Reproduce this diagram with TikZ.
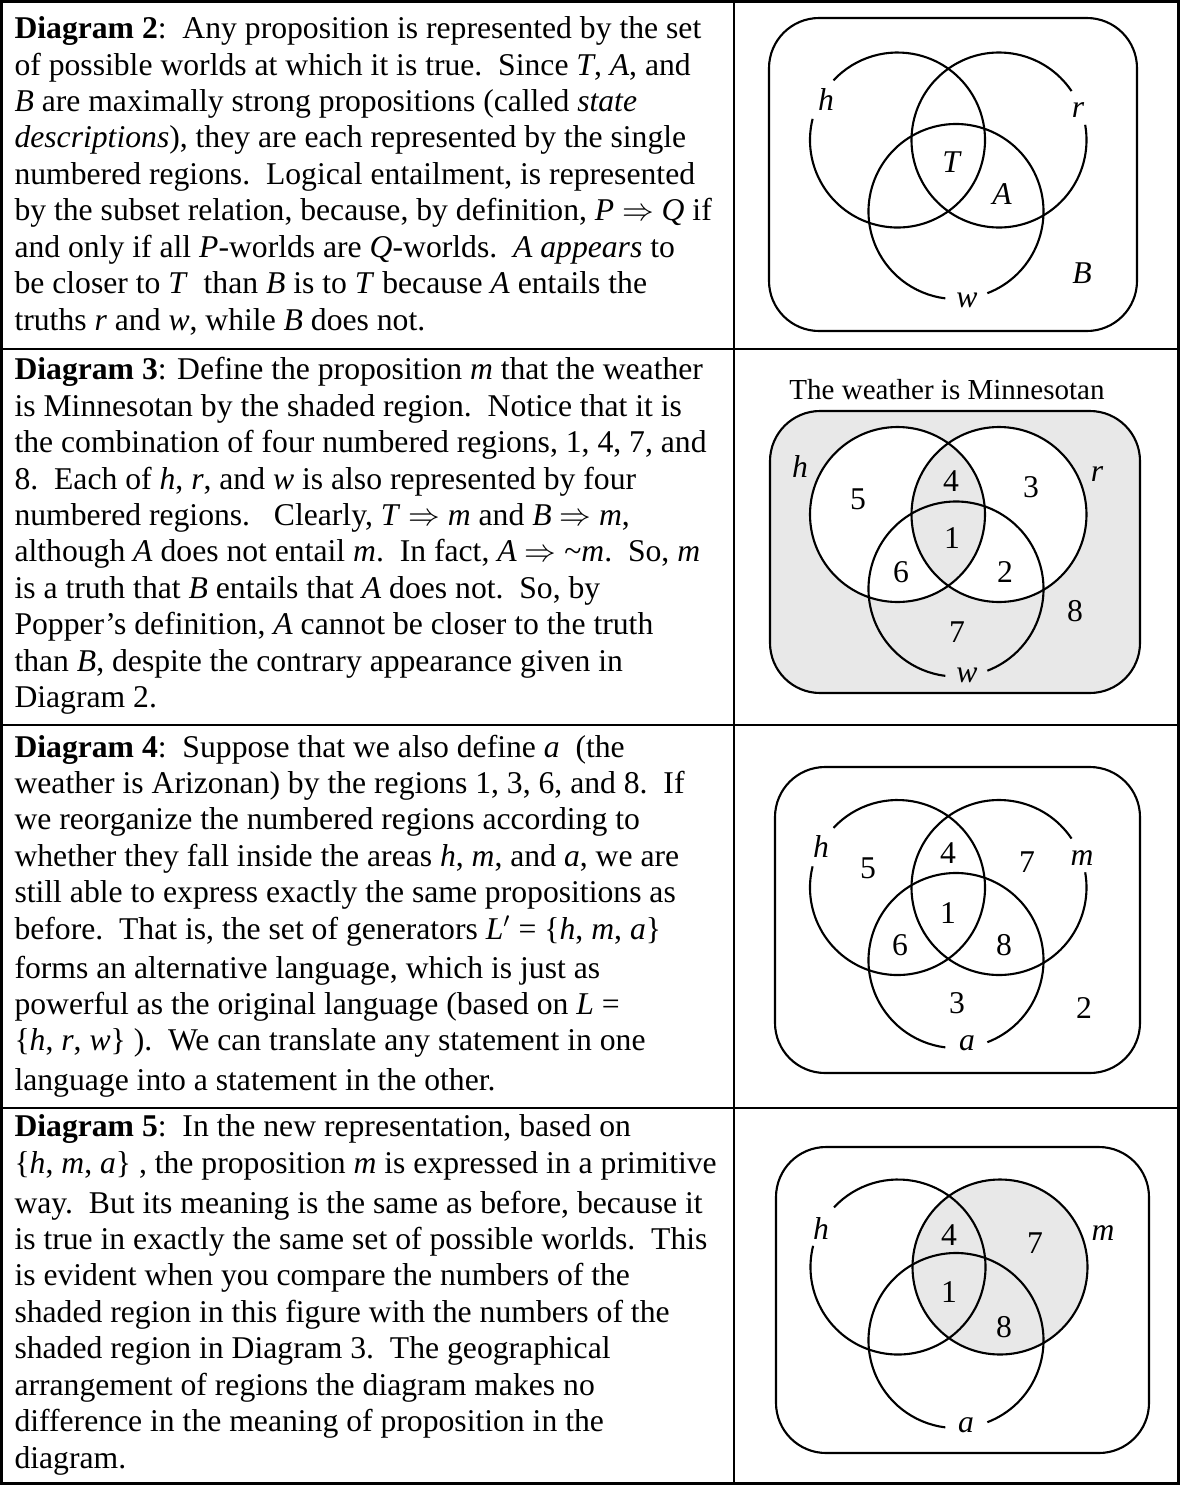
\documentclass[tikz,border=0pt]{standalone}
\usepackage{fontspec}
\setmainfont{Liberation Serif}
\definecolor{mngrey}{gray}{0.91}
\tikzset{
  grid/.style={line width=1.1pt},
  venn/.style={line width=0.8pt},
  world/.style={venn, rounded corners=19pt},
  lbl/.style={inner sep=0pt, font=\fontsize{12}{14}\selectfont},
  para/.style={anchor=base west, align=left, inner sep=0pt, font=\fontsize{12}{13.8}\selectfont}
}
\begin{document}
\begin{tikzpicture}[x=0.379pt, y=0.379pt]
    \useasboundingbox (0,0) rectangle (1180,-1485);
    \draw[grid] (1.3,-1.3) rectangle (1178.7,-1483.7);
    \draw[grid] (734,-1.3) -- (734,-1483.7);
    \foreach \y in {349,725,1108} \draw[grid] (1.3,-\y) -- (1178.7,-\y);

    \node[para] (para2) at (14,-330) {\textbf{Diagram 2}:\ \ Any proposition is represented by the set\\
      of possible worlds at which it is true.\ \ Since \textit{T}, \textit{A}, and\\
      \textit{B} are maximally strong propositions (called \textit{state}\\
      \textit{descriptions}), they are each represented by the single\\
      numbered regions.\ \ Logical entailment, is represented\\
      by the subset relation, because, by definition, \textit{P} $\Rightarrow$ \textit{Q} if\\
      and only if all \textit{P}-worlds are \textit{Q}-worlds.\ \ \textit{A appears} to\\
      be closer to \textit{T}\ \ than \textit{B} is to \textit{T} because \textit{A} entails the\\
      truths \textit{r} and \textit{w}, while \textit{B} does not.};
    \node[para] (para3) at (14,-707.6) {\textbf{Diagram 3}: Define the proposition \textit{m} that the weather\\
      is Minnesotan by the shaded region.\ \ Notice that it is\\
      the combination of four numbered regions, 1, 4, 7, and\\
      8.\ \ Each of \textit{h}, \textit{r}, and \textit{w} is also represented by four\\
      numbered regions.\ \ \ Clearly, \textit{T} $\Rightarrow$ \textit{m} and \textit{B} $\Rightarrow$ \textit{m},\\
      although \textit{A} does not entail \textit{m}.\ \ In fact, \textit{A} $\Rightarrow$ \textasciitilde\textit{m}.\ \ So, \textit{m}\\
      is a truth that \textit{B} entails that \textit{A} does not.\ \ So, by\\
      Popper’s definition, \textit{A} cannot be closer to the truth\\
      than \textit{B}, despite the contrary appearance given in\\
      Diagram 2.};
    \node[para] (para4) at (14,-1090) {\textbf{Diagram 4}:\ \ Suppose that we also define \textit{a}\ \ (the\\
      weather is Arizonan) by the regions 1, 3, 6, and 8.\ \ If\\
      we reorganize the numbered regions according to\\
      whether they fall inside the areas \textit{h}, \textit{m}, and \textit{a}, we are\\
      still able to express exactly the same propositions as\\
      before.\ \ That is, the set of generators \textit{L}$'$ = \{\textit{h}, \textit{m}, \textit{a}\}\\[1pt]
      forms an alternative language, which is just as\\
      powerful as the original language (based on \textit{L} =\\
      \{\textit{h}, \textit{r}, \textit{w}\} ).\ \ We can translate any statement in one\\[1pt]
      language into a statement in the other.};
    \node[para] (para5) at (14,-1468) {\textbf{Diagram 5}:\ \ In the new representation, based on\\
      \{\textit{h}, \textit{m}, \textit{a}\} , the proposition \textit{m} is expressed in a primitive\\[1.4pt]
      way.\ \ But its meaning is the same as before, because it\\
      is true in exactly the same set of possible worlds.\ \ This\\
      is evident when you compare the numbers of the\\
      shaded region in this figure with the numbers of the\\
      shaded region in Diagram 3.\ \ The geographical\\
      arrangement of regions the diagram makes no\\
      difference in the meaning of proposition in the\\
      diagram.};

    \coordinate (h2) at (897.5,-140); \coordinate (r2) at (999,-140); \coordinate (w2) at (956,-211.5);
    \draw[world] (769,-18) rectangle (1137,-331);
    \draw[venn] (h2) ++(166:87.5) arc[start angle=166, end angle=497, radius=87.5];
    \draw[venn] (r2) ++(34:87.5) arc[start angle=34, end angle=370, radius=87.5];
    \draw[venn] (w2) ++(-69:87.5) arc[start angle=-69, end angle=263, radius=87.5];
    \node[lbl] (lh2) at (826,-100) {\textit{h}};  \node[lbl] (lr2) at (1078,-110) {\textit{r}};
    \node[lbl] (lw2) at (967,-300) {\textit{w}};  \node[lbl] (st2) at (952,-162.5) {\textit{T}};
    \node[lbl] (sa2) at (1002,-194) {\textit{A}}; \node[lbl] (sb2) at (1082,-273) {\textit{B}};

    \coordinate (h3) at (897.5,-514.5); \coordinate (r3) at (999,-514.5); \coordinate (w3) at (956,-589);
    \node[font=\fontsize{11}{13}\selectfont, anchor=base, inner sep=0pt] (title3) at (947,-399) {The weather is Minnesotan};
    \fill[mngrey, rounded corners=19pt] (770,-411) rectangle (1140,-693);
    \fill[white, even odd rule] (h3) circle[radius=87.5] (r3) circle[radius=87.5];
    \draw[world] (770,-411) rectangle (1140,-693);
    \draw[venn] (h3) circle[radius=87.5];
    \draw[venn] (r3) circle[radius=87.5];
    \draw[venn] (w3) ++(-69:87.5) arc[start angle=-69, end angle=263, radius=87.5];
    \node[lbl] (lh3) at (800,-467) {\textit{h}};  \node[lbl] (lr3) at (1097,-474) {\textit{r}};
    \node[lbl] (lw3) at (967,-675) {\textit{w}};
    \node[lbl] (n35) at (858,-499) {5}; \node[lbl] (n34) at (951,-481) {4}; \node[lbl] (n33) at (1031,-487) {3};
    \node[lbl] (n31) at (952,-538) {1}; \node[lbl] (n36) at (901,-572) {6}; \node[lbl] (n32) at (1005,-572) {2};
    \node[lbl] (n38) at (1075,-611) {8}; \node[lbl] (n37) at (957,-632) {7};

    \coordinate (h4) at (897.5,-887.5); \coordinate (m4) at (999,-887.5); \coordinate (a4) at (956,-960.5);
    \draw[world] (775,-767) rectangle (1140,-1073);
    \draw[venn] (h4) ++(166:87.5) arc[start angle=166, end angle=497, radius=87.5];
    \draw[venn] (m4) ++(34:87.5) arc[start angle=34, end angle=370, radius=87.5];
    \draw[venn] (a4) ++(-69:87.5) arc[start angle=-69, end angle=263, radius=87.5];
    \node[lbl] (lh4) at (821,-847) {\textit{h}};  \node[lbl] (lm4) at (1082,-858) {\textit{m}};
    \node[lbl] (la4) at (967,-1043) {\textit{a}};
    \node[lbl] (n45) at (868,-868) {5}; \node[lbl] (n44) at (948,-853) {4}; \node[lbl] (n47) at (1027,-862) {7};
    \node[lbl] (n41) at (948,-913) {1}; \node[lbl] (n46) at (900,-945) {6}; \node[lbl] (n48) at (1004,-945) {8};
    \node[lbl] (n43) at (957,-1003) {3}; \node[lbl] (n42) at (1084,-1008) {2};

    \coordinate (h5) at (898,-1267); \coordinate (m5) at (1000,-1267); \coordinate (a5) at (956,-1340.5);
    \fill[mngrey] (m5) circle[radius=87.5];
    \draw[world] (776,-1147) rectangle (1149,-1453);
    \draw[venn] (h5) ++(166:87.5) arc[start angle=166, end angle=497, radius=87.5];
    \draw[venn] (m5) circle[radius=87.5];
    \draw[venn] (a5) ++(-69:87.5) arc[start angle=-69, end angle=263, radius=87.5];
    \node[lbl] (lh5) at (821,-1228) {\textit{h}};  \node[lbl] (lm5) at (1103,-1233) {\textit{m}};
    \node[lbl] (la5) at (966,-1425) {\textit{a}};
    \node[lbl] (n54) at (949,-1235) {4}; \node[lbl] (n57) at (1035,-1243) {7};
    \node[lbl] (n51) at (949,-1292) {1}; \node[lbl] (n58) at (1004,-1327) {8};
\end{tikzpicture}
\end{document}
